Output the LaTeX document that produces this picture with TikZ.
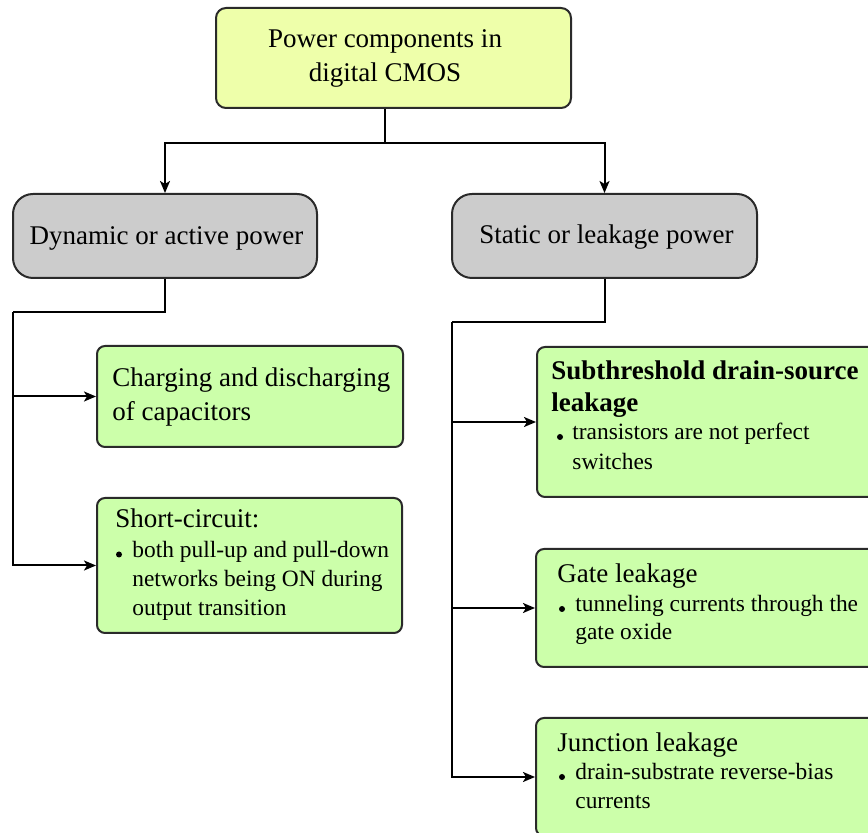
\documentclass[tikz,border=0pt]{standalone}
\usepackage{fontspec}
\setmainfont{Liberation Serif}
\usetikzlibrary{arrows.meta}
\definecolor{rootfill}{HTML}{EEFFAA}
\definecolor{leaffill}{HTML}{CCFFAA}
\definecolor{groupfill}{HTML}{CCCCCC}
\definecolor{edgegray}{HTML}{2A2A2A}
\begin{document}
\begin{tikzpicture}[x=0.5pt,y=-0.5pt,
  box/.style={draw=edgegray, line width=1pt, inner sep=0pt},
  rootbox/.style={box, fill=rootfill, rounded corners=5pt},
  groupbox/.style={box, fill=groupfill, rounded corners=10pt},
  leafbox/.style={box, fill=leaffill, rounded corners=4pt},
  main/.style={inner sep=0pt, font=\fontsize{13.5pt}{16.5pt}\selectfont},
  sub/.style={inner sep=0pt, font=\fontsize{11.7pt}{14pt}\selectfont},
  link/.style={line width=1pt, -{Stealth[length=6pt,width=5pt,inset=1.5pt]}},
  dot/.style={fill=black}]
\useasboundingbox (0,0) rectangle (868,833);
\clip (0,0) rectangle (868,833);

% boxes
\node[rootbox, minimum width=177.5pt, minimum height=50pt] (root) at (393.5,58) {};
\node[groupbox, minimum width=152pt, minimum height=42pt] (dyn) at (165,236) {};
\node[groupbox, minimum width=152.5pt, minimum height=42pt] (stat) at (604.5,236) {};
\node[leafbox, minimum width=153pt, minimum height=50.5pt] (charge) at (250,396.5) {};
\node[leafbox, minimum width=152.5pt, minimum height=67.5pt] (short) at (249.5,565.5) {};
\node[leafbox, minimum width=171.5pt, minimum height=75pt] (subth) at (708.5,422) {};
\node[leafbox, minimum width=172pt, minimum height=59pt] (gate) at (708,608) {};
\node[leafbox, minimum width=172pt, minimum height=59pt] (junc) at (708,777) {};

% texts
\node[main, anchor=base] (rootA) at (385,48) {Power components in};
\node[main, anchor=base] (rootB) at (385,82) {digital CMOS};
\node[main, anchor=base] (dynT) at (166.5,245) {Dynamic or active power};
\node[main, anchor=base] (statT) at (606.5,244) {Static or leakage power};

\node[main, anchor=base west] (chA) at (112,387) {Charging and discharging};
\node[main, anchor=base west] (chB) at (112,421) {of capacitors};

\node[main, anchor=base west] (shA) at (115,528) {Short-circuit:};
\node[sub, anchor=base west] (shB) at (132,558) {both pull-up and pull-down};
\node[sub, anchor=base west] (shC) at (132,587) {networks being ON during};
\node[sub, anchor=base west] (shD) at (132,616) {output transition};
\fill[dot] (119,554.5) circle (3);

\node[main, anchor=base west] (stA) at (551,380) {\bfseries Subthreshold drain-source};
\node[main, anchor=base west] (stB) at (551,412) {\bfseries leakage};
\node[sub, anchor=base west] (stC) at (572,440) {transistors are not perfect};
\node[sub, anchor=base west] (stD) at (572,470) {switches};
\fill[dot] (560,437) circle (3);

\node[main, anchor=base west] (gtA) at (557,583) {Gate leakage};
\node[sub, anchor=base west] (gtB) at (575,612) {tunneling currents through the};
\node[sub, anchor=base west] (gtC) at (575,640) {gate oxide};
\fill[dot] (562,609) circle (3);

\node[main, anchor=base west] (jnA) at (557,752) {Junction leakage};
\node[sub, anchor=base west] (jnB) at (575,780) {drain-substrate reverse-bias};
\node[sub, anchor=base west] (jnC) at (575,808) {currents};
\fill[dot] (562,777) circle (3);

% connectors
\coordinate (split) at (385,143);
\coordinate (lbus) at (13,312);
\coordinate (rbus) at (452,322);
\draw[link] (split |- root.south) -- (split) -| (dyn.north);
\draw[link] (split) -| (stat.north);
\draw[line width=1pt] (dyn.south) |- (lbus);
\draw[link] (lbus) |- (charge.west);
\draw[link] (lbus) |- (short.west);
\draw[line width=1pt] (stat.south) |- (rbus);
\draw[link] (rbus) |- (subth.west);
\draw[link] (rbus) |- (gate.west);
\draw[link] (rbus) |- (junc.west);
\end{tikzpicture}
\end{document}
